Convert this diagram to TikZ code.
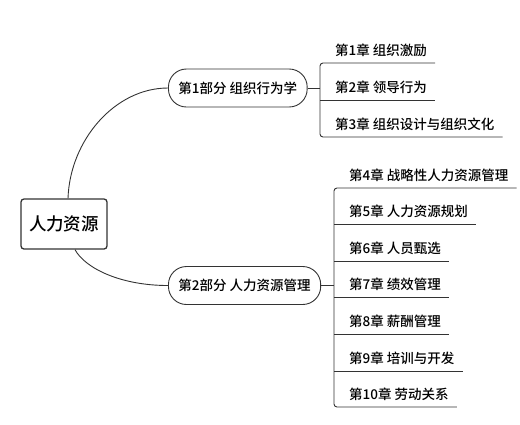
\documentclass[tikz,border=0pt]{standalone}
\usepackage{fontspec}
\setmainfont{Noto Sans CJK SC Medium}
\usetikzlibrary{positioning}

\tikzset{
    root/.style={draw=linegrey, line width=1.3pt, rounded corners=3pt, minimum width=86pt, minimum height=50pt, inner sep=0pt, font=\fontsize{17.5}{20}\selectfont},
    part/.style={draw=linegrey, line width=0.9pt, rounded corners=18pt, minimum height=38pt, inner xsep=10pt, font=\fontsize{13.5}{16}\selectfont, anchor=west},
    chap/.style={inner xsep=8pt, inner ysep=7pt, text depth=0pt, font=\fontsize{13.5}{16}\selectfont, anchor=south west},
    link/.style={draw=linegrey, line width=0.9pt}
}

\begin{document}
\begin{tikzpicture}[x=1pt, y=-1pt]
    \definecolor{linegrey}{HTML}{333333}
    \useasboundingbox (0,0) rectangle (520,424);
    %\draw[help lines, step=20] (0,0) grid (520,424);

    \node[root] (hr) at (64,224) {人力资源};

    \node[part] (p1) at (168,88) {第1部分 组织行为学};
    \node[part] (p2) at (168,285.5) {第2部分 人力资源管理};

    \draw[link] ([xshift=4pt]hr.north) .. controls (70,140) and (115,88) .. (p1.west);
    \draw[link] ([xshift=11pt]hr.south) .. controls (85,268) and (120,285.5) .. (p2.west);

    % part 1
    \coordinate (j1) at (320,88);
    \node[chap] (c1) at (327,63) {第1章 组织激励};
    \node[chap] (c2) at (327,100) {第2章 领导行为};
    \node[chap] (c3) at (327,137) {第3章 组织设计与组织文化};

    \draw[link] (p1.east) -- (j1);
    \draw[link, rounded corners=3pt] (c1.south east) -- (c1.south -| j1) -- (c3.south -| j1) -- (c3.south east);
    \draw[link] (c2.south -| j1) -- (c2.south east);

    % part 2
    \coordinate (j2) at (334,285.5);
    \node[chap] (c4) at (341,188) {第4章 战略性人力资源管理};
    \node[chap] (c5) at (341,224) {第5章 人力资源规划};
    \node[chap] (c6) at (341,261) {第6章 人员甄选};
    \node[chap] (c7) at (341,297) {第7章 绩效管理};
    \node[chap] (c8) at (341,334) {第8章 薪酬管理};
    \node[chap] (c9) at (341,371) {第9章 培训与开发};
    \node[chap] (c10) at (341,407) {第10章 劳动关系};

    \draw[link] (p2.east) -- (j2);
    \draw[link, rounded corners=3pt] (c4.south east) -- (c4.south -| j2) -- (c10.south -| j2) -- (c10.south east);
    \draw[link] (c5.south -| j2) -- (c5.south east);
    \draw[link] (c6.south -| j2) -- (c6.south east);
    \draw[link] (c7.south -| j2) -- (c7.south east);
    \draw[link] (c8.south -| j2) -- (c8.south east);
    \draw[link] (c9.south -| j2) -- (c9.south east);

\end{tikzpicture}
\end{document}
